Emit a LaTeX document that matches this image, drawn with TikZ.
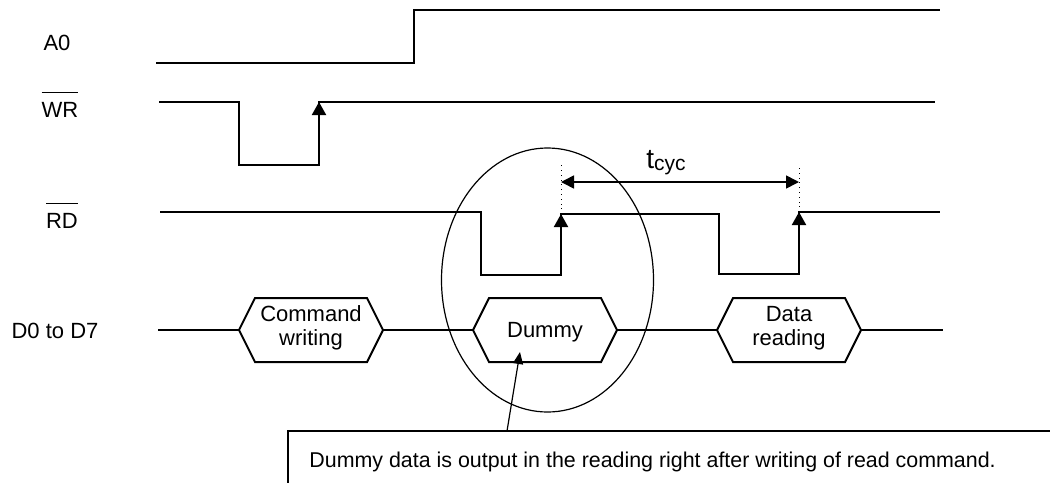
\documentclass[tikz,border=0pt]{standalone}
\usepackage{fontspec}
\setmainfont{Liberation Sans}
\usetikzlibrary{arrows.meta}
\tikzset{
  sig/.style={line width=1pt},
  rise/.style={line width=1pt,-{Triangle[width=7pt,length=6.5pt]}},
  hexbus/.style={line width=1pt,line join=miter},
  lbl/.style={font=\fontsize{11}{12}\selectfont,inner sep=0pt,align=center}
}
\begin{document}
\begin{tikzpicture}[x=0.5pt,y=-0.5pt]
\useasboundingbox (0,0) rectangle (1050,483);
% signal names
\node [lbl,anchor=base] (a0) at (57,50) {A0};
\node [lbl,anchor=base] (wr) at (60,117) {$\overline{\mbox{WR\rule{0pt}{10.8pt}}}$};
\node [lbl,anchor=base] (rd) at (62,228) {$\overline{\mbox{RD\rule{0pt}{10.8pt}}}$};
\node [lbl,anchor=base] (dbus) at (55,338) {D0 to D7};
% A0
\draw [sig] (156,63) -- (414,63) -- (414,10) -- (940,10);
% WR
\draw [sig] (159,102) -- (239,102) -- (239,165) -- (319,165) -- (319,102) -- (935,102);
\draw [rise] (319,165) -- (319,102);
% RD
\draw [sig] (160,212) -- (481,212) -- (481,275) -- (561,275) -- (561,214) -- (719,214)
  -- (719,274) -- (799,274) -- (799,212) -- (940,212);
\draw [rise] (561,275) -- (561,214);
\draw [rise] (799,274) -- (799,212);
% tcyc
\coordinate (cycL) at (561,182);
\coordinate (cycR) at (799,182);
\draw [dotted,line width=0.4pt] (561,214) -- (561,165);
\draw [dotted,line width=0.4pt] (799,212) -- (799,165);
\draw [line width=0.8pt,{Triangle[width=6.5pt,length=6.5pt]}-{Triangle[width=6.5pt,length=6.5pt]}] (cycL) -- (cycR);
\node [anchor=base west,inner sep=0pt,font=\fontsize{14}{14}\selectfont] (tcyc) at (646,168)
  {t\raisebox{-1.2pt}{\fontsize{10.5}{10}\selectfont cyc}};
% data bus
\foreach \n/\l/\r in {cw/239/383, dm/473/617, dr/717/861} {
  \draw [hexbus] (\l,330) -- (\l+16,298) -- (\r-16,298) -- (\r,330) -- (\r-16,362) -- (\l+16,362) -- cycle;
  \coordinate (\n W) at (\l,330);
  \coordinate (\n E) at (\r,330);
}
\coordinate (busL) at (158,330);
\coordinate (busR) at (943,330);
\draw [sig] (busL) -- (cwW);
\draw [sig] (cwE) -- (dmW);
\draw [sig] (dmE) -- (drW);
\draw [sig] (drE) -- (busR);
\node [lbl] (cw) at (311,328) {Command\\writing};
\node [lbl,anchor=base] (dm) at (545,337) {Dummy};
\node [lbl] (dr) at (789,328) {Data\\reading};
% note
\draw [line width=0.6pt] (547.5,280) ellipse (53pt and 66pt);
\draw [line width=0.8pt] (1050,431) -- (288,431) -- (288,483);
\coordinate (noteTop) at (507,431);
\coordinate (dmBot) at (520,352);
\draw [line width=0.6pt,-{Triangle[width=5pt,length=6pt]}] (noteTop) -- (dmBot);
\node [anchor=base west,inner sep=0pt,font=\fontsize{10.7}{12}\selectfont] (note) at (309,467)
  {Dummy data is output in the reading right after writing of read command.};
\end{tikzpicture}
\end{document}
